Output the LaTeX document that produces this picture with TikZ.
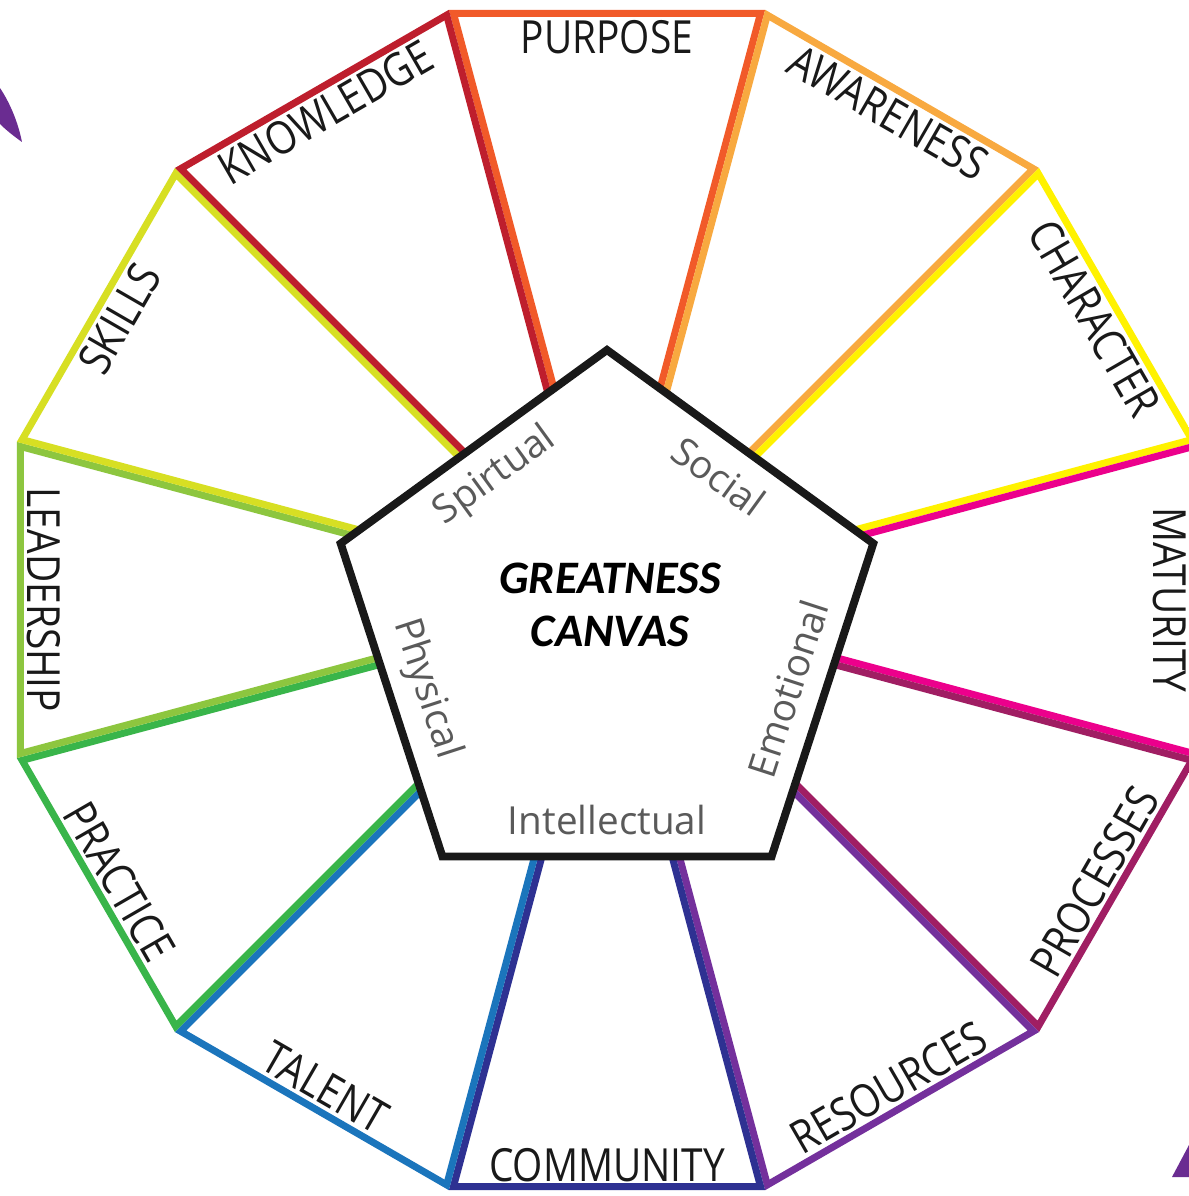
\documentclass[tikz,border=0pt]{standalone}
\usepackage{fontspec}
\newfontfamily\outerfont[FakeStretch=0.85]{Open Sans}
\newfontfamily\innerfont{Open Sans}
\newfontfamily\titlefont{Carlito}
\definecolor{purposec}{HTML}{F15A29}
\definecolor{awarenessc}{HTML}{F8A940}
\definecolor{characterc}{HTML}{FFF200}
\definecolor{maturityc}{HTML}{EC008C}
\definecolor{processesc}{HTML}{A01E63}
\definecolor{resourcesc}{HTML}{74309C}
\definecolor{communityc}{HTML}{2E3192}
\definecolor{talentc}{HTML}{1B75BC}
\definecolor{practicec}{HTML}{39B54A}
\definecolor{leadershipc}{HTML}{8DC63F}
\definecolor{skillsc}{HTML}{D7DF23}
\definecolor{knowledgec}{HTML}{BE1E2D}
\definecolor{innergray}{HTML}{5A5A5A}
\definecolor{arrowc}{HTML}{6A2C91}
\begin{document}
\begin{tikzpicture}[x=0.02cm, y=0.02cm,
  seg/.style={line width=8pt, line join=miter},
  pent/.style={fill=white, draw=black!90, line width=4.5pt, line join=miter},
  outer/.style={font=\outerfont\fontsize{26}{30}\selectfont, text=black!90},
  inner/.style={font=\innerfont\fontsize{22}{26}\selectfont, text=innergray},
  title/.style={font=\titlefont\bfseries\itshape\fontsize{26.5}{30.5}\selectfont, align=center}]
\useasboundingbox (-607,-596) rectangle (582,600);
\fill[white] (-607,-596) rectangle (582,600);
% the twelve segments
\begin{scope}\clip (0,0)--(105:611)--(75:611)--cycle; \draw[seg, purposec] (0,0)--(105:611)--(75:611)--cycle;\end{scope}
\begin{scope}\clip (0,0)--(75:611)--(45:611)--cycle; \draw[seg, awarenessc] (0,0)--(75:611)--(45:611)--cycle;\end{scope}
\begin{scope}\clip (0,0)--(45:611)--(15:611)--cycle; \draw[seg, characterc] (0,0)--(45:611)--(15:611)--cycle;\end{scope}
\begin{scope}\clip (0,0)--(15:611)--(-15:611)--cycle; \draw[seg, maturityc] (0,0)--(15:611)--(-15:611)--cycle;\end{scope}
\begin{scope}\clip (0,0)--(-15:611)--(-45:611)--cycle; \draw[seg, processesc] (0,0)--(-15:611)--(-45:611)--cycle;\end{scope}
\begin{scope}\clip (0,0)--(-45:611)--(-75:611)--cycle; \draw[seg, resourcesc] (0,0)--(-45:611)--(-75:611)--cycle;\end{scope}
\begin{scope}\clip (0,0)--(-75:611)--(-105:611)--cycle; \draw[seg, communityc] (0,0)--(-75:611)--(-105:611)--cycle;\end{scope}
\begin{scope}\clip (0,0)--(-105:611)--(-135:611)--cycle; \draw[seg, talentc] (0,0)--(-105:611)--(-135:611)--cycle;\end{scope}
\begin{scope}\clip (0,0)--(-135:611)--(-165:611)--cycle; \draw[seg, practicec] (0,0)--(-135:611)--(-165:611)--cycle;\end{scope}
\begin{scope}\clip (0,0)--(-165:611)--(165:611)--cycle; \draw[seg, leadershipc] (0,0)--(-165:611)--(165:611)--cycle;\end{scope}
\begin{scope}\clip (0,0)--(165:611)--(135:611)--cycle; \draw[seg, skillsc] (0,0)--(165:611)--(135:611)--cycle;\end{scope}
\begin{scope}\clip (0,0)--(135:611)--(105:611)--cycle; \draw[seg, knowledgec] (0,0)--(135:611)--(105:611)--cycle;\end{scope}
% outer labels
\node[outer] (purpose) at (90:563) {PURPOSE};
\node[outer, rotate=-30] (awareness) at (60:563) {AWARENESS};
\node[outer, rotate=-60] (character) at (30:563) {CHARACTER};
\node[outer, rotate=-90] (maturity) at (0:563) {MATURITY};
\node[outer, rotate=60] (processes) at (-30:563) {PROCESSES};
\node[outer, rotate=30] (resources) at (-60:563) {RESOURCES};
\node[outer] (community) at (-90:565) {COMMUNITY};
\node[outer, rotate=-30] (talent) at (-120:563) {TALENT};
\node[outer, rotate=-60] (practice) at (-150:563) {PRACTICE};
\node[outer, rotate=-90] (leadership) at (180:563) {LEADERSHIP};
\node[outer, rotate=60] (skills) at (150:563) {SKILLS};
\node[outer, rotate=30] (knowledge) at (120:563) {KNOWLEDGE};
% the pentagon
\draw[pent, shift={(0,-30)}] (90:280)--(18:280)--(-54:280)--(-126:280)--(162:280)--cycle;
\node[title] (canvas) at (3,-5) {GREATNESS\\CANVAS};
\node[inner, rotate=36] (spiritual) at ([shift={(0,-30)}]126:190) {Spirtual};
\node[inner, rotate=-36] (social) at ([shift={(0,-30)}]54:190) {Social};
\node[inner, rotate=72] (emotional) at ([shift={(0,-30)}]-18:190) {Emotional};
\node[inner] (intellectual) at ([shift={(0,-30)}]-90:190) {Intellectual};
\node[inner, rotate=-72] (physical) at ([shift={(0,-30)}]198:190) {Physical};
% cut-off arrow tips at the corners
\fill[arrowc] (-607,512) .. controls (-597,497) and (-589,478) .. (-585,458) .. controls (-592,463) and (-600,469) .. (-607,476) -- cycle;
\fill[arrowc] (565,-577) -- (582,-545) -- (582,-577) -- cycle;
\end{tikzpicture}
\end{document}
